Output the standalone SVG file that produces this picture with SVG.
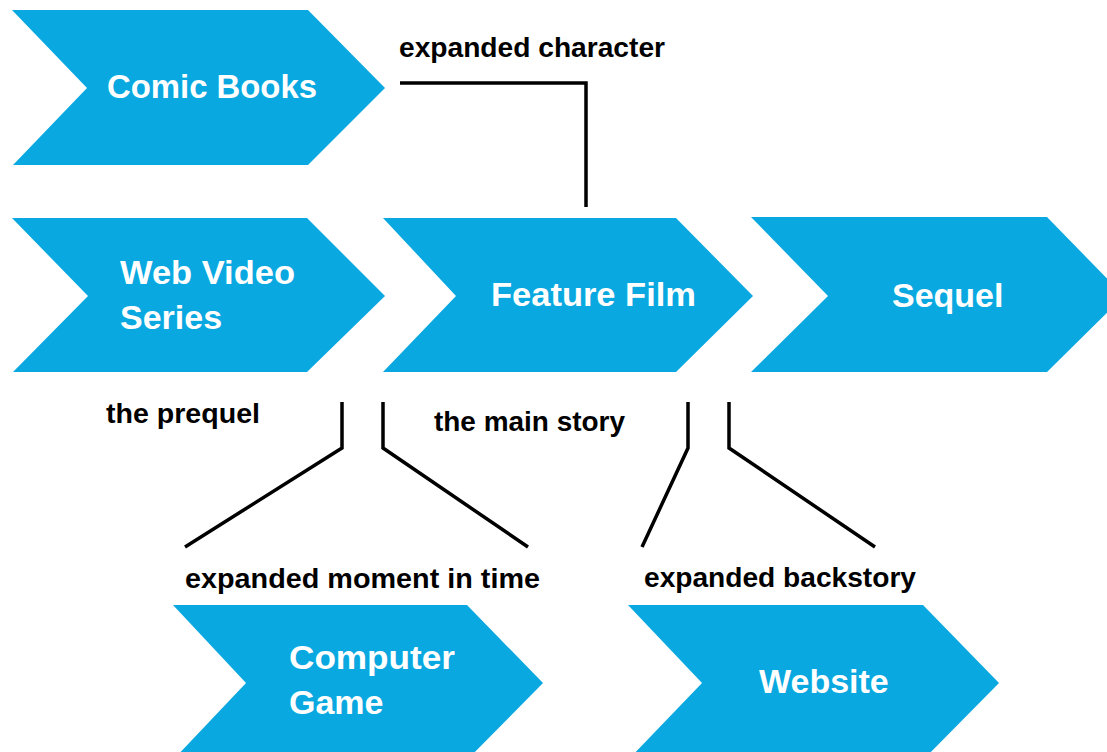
<svg xmlns="http://www.w3.org/2000/svg" width="1107" height="752" viewBox="0 0 1107 752">
<style>
.chev{fill:#0aa8e0}
.nt{font-family:"Liberation Sans",Arial,sans-serif;font-weight:bold;font-size:34px;fill:#ffffff}
.lb{font-family:"Liberation Sans",Arial,sans-serif;font-weight:bold;font-size:28px;fill:#000000}
.cn{fill:none;stroke:#000;stroke-width:3.5;stroke-linejoin:miter}
</style>
<rect width="1107" height="752" fill="#ffffff"/>
<g id="comic-books">
<polygon class="chev" points="12,10 308,10 385,88 308,165 13,165 87,88"/>
<text class="nt" x="107" y="98" textLength="210" lengthAdjust="spacingAndGlyphs">Comic Books</text>
</g>
<g id="web-video-series">
<polygon class="chev" points="12,218 307,218 385,296 307,372 13,372 88,296"/>
<text class="nt" x="120" y="284" textLength="175" lengthAdjust="spacingAndGlyphs">Web Video</text>
<text class="nt" x="120" y="329">Series</text>
</g>
<g id="feature-film">
<polygon class="chev" points="383,218 676,218 753,296 676,372 383,372 456,296"/>
<text class="nt" x="491" y="306" textLength="205" lengthAdjust="spacingAndGlyphs">Feature Film</text>
</g>
<g id="sequel">
<polygon class="chev" points="751,217 1047,217 1124,296 1047,372 751,372 828,296"/>
<text class="nt" x="892" y="307">Sequel</text>
</g>
<g id="computer-game">
<polygon class="chev" points="173,605 467,605 543,683 467,760 173,760 246,683"/>
<text class="nt" x="289" y="669" textLength="166" lengthAdjust="spacingAndGlyphs">Computer</text>
<text class="nt" x="289" y="714">Game</text>
</g>
<g id="website">
<polygon class="chev" points="628,605 923,605 999,683 923,760 628,760 702,683"/>
<text class="nt" x="759" y="693">Website</text>
</g>
<g id="connectors">
<polyline class="cn" points="400,83 586,83 586,207"/>
<polyline class="cn" points="342,402 342,448 185,547"/>
<polyline class="cn" points="383,402 383,448 528,547"/>
<polyline class="cn" points="688,402 688,448 642,547"/>
<polyline class="cn" points="729,402 729,448 875,547"/>
</g>
<g id="labels">
<text class="lb" x="399" y="57" textLength="266" lengthAdjust="spacingAndGlyphs">expanded character</text>
<text class="lb" x="106" y="423" textLength="154" lengthAdjust="spacingAndGlyphs">the prequel</text>
<text class="lb" x="434" y="431" textLength="191" lengthAdjust="spacingAndGlyphs">the main story</text>
<text class="lb" x="185" y="588" textLength="355" lengthAdjust="spacingAndGlyphs">expanded moment in time</text>
<text class="lb" x="644" y="587" textLength="272" lengthAdjust="spacingAndGlyphs">expanded backstory</text>
</g>
</svg>
